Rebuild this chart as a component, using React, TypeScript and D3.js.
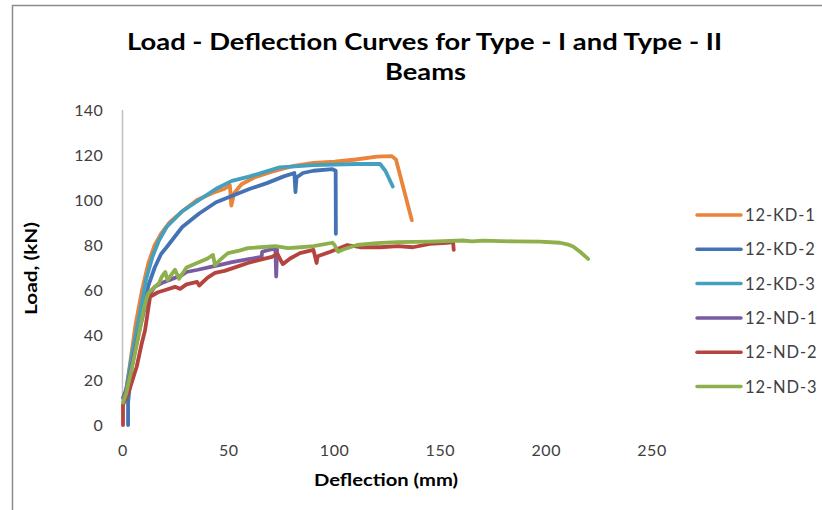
import { useEffect, useRef } from 'react'
import * as d3 from 'd3'

// deflection (mm), load (kN)
const kd1: [number, number][] = [
  [1, 12], [3, 25], [6, 45], [9, 60], [12, 72], [15, 80], [18, 85], [22, 90], [28, 95],
  [35, 100], [42, 103], [48, 105], [50.5, 106.5], [51.2, 97.5], [52.5, 103], [56, 107],
  [62, 110], [70, 112.5], [80, 115], [90, 116.5], [100, 117], [110, 118], [120, 119.3],
  [127, 119.5], [129, 118], [136.5, 91],
]
const kd2: [number, number][] = [
  [2.4, 0], [2.4, 10], [4, 25], [8, 45], [12, 62], [15, 70], [18, 76], [20.6, 79], [28, 88],
  [36, 94], [44, 99], [52, 102], [60, 105], [68, 107.5], [76, 110.5], [81, 112], [81.5, 103.5],
  [82, 110], [85, 112], [90, 113], [99, 113.7], [100.5, 113], [100.6, 85],
]
const kd3: [number, number][] = [
  [1, 13], [4, 30], [8, 50], [11, 65], [14, 75], [17, 82], [20.6, 88], [28, 95], [36, 100],
  [44, 105], [51.5, 108.5], [60, 110.5], [74, 114.5], [90, 115.5], [110, 116], [121.5, 116],
  [124, 113], [127.5, 106],
]
const nd1: [number, number][] = [
  [0, 12], [2, 17], [4, 26], [7, 39], [10, 51], [12.5, 58], [15, 61.4], [18, 63], [22, 64.5],
  [28, 66.7], [30, 68], [35.4, 69], [42, 70.4], [46, 71.2], [51.5, 72.4], [58, 73.5],
  [65.5, 74.7], [65.8, 77], [72, 78.6], [72.4, 66], [72.8, 78],
]
const nd2: [number, number][] = [
  [0, 0], [0, 9], [2, 13], [3.5, 17], [6.5, 26], [8.8, 36], [10.4, 42], [12, 52], [12.8, 57],
  [16.5, 59], [20, 60], [24.6, 61.4], [27, 60.5], [30, 62.5], [35, 63.6], [36, 62], [40, 65.5],
  [43.5, 67.6], [48, 68.5], [54, 70.4], [59, 72], [65, 73.5], [70.4, 74.7], [73, 76],
  [75.5, 71.5], [79, 74], [83.6, 76.4], [90, 77.8], [91.5, 72], [92, 75], [98, 77], [106, 80],
  [112, 79], [121.5, 79], [130, 79.5], [137, 79], [145, 80.5], [153, 81], [156, 81.3],
  [156.3, 77.8],
]
const nd3: [number, number][] = [
  [0, 10], [1.5, 14], [4.7, 27.5], [7, 38], [9.5, 50], [11, 56], [12, 58.6], [14, 60.5],
  [17, 63], [18.4, 66], [20, 68], [21, 64.4], [24.6, 69], [26.5, 65], [30, 70], [35, 72],
  [40, 74], [42.5, 75.6], [43.5, 71], [46, 73.5], [49.6, 76.4], [55, 77.5], [59, 78.6],
  [65, 79], [72, 79.5], [78, 78.6], [84, 79], [90, 79.5], [99, 81], [100, 80], [101.6, 77],
  [104, 78], [110.6, 80], [120, 80.8], [129.5, 81.3], [145, 81.5], [160.7, 82], [165, 81.6],
  [170, 81.9], [185, 81.6], [197, 81.5], [206.5, 81], [210, 80.3], [212.7, 79.3], [216, 77],
  [219.8, 73.8],
]

const seriesNames = ['12-KD-1', '12-KD-2', '12-KD-3', '12-ND-1', '12-ND-2', '12-ND-3']
const seriesData = [kd1, kd2, kd3, nd1, nd2, nd3]
const seriesColors = ['#E9843A', '#4473B5', '#43A0BE', '#7A5BA3', '#B5443F', '#8DB04C']

const xTicks = [0, 50, 100, 150, 200, 250]
const yTicks = [0, 20, 40, 60, 80, 100, 120, 140]

const FONT = 'Lato, "Open Sans", sans-serif'

export default function App() {
  const ref = useRef<SVGSVGElement>(null)

  useEffect(() => {
    const svg = d3.select(ref.current)
    svg.selectAll('*').remove()

    const x = d3.scaleLinear().domain([0, 250]).range([123, 652])
    const y = d3.scaleLinear().domain([0, 140]).range([425, 110])

    svg.append('rect').attr('width', 822).attr('height', 510).attr('fill', '#fff')
    // chart area border (cropped at right and bottom)
    svg.append('rect')
      .attr('x', 12.5).attr('y', 5.5).attr('width', 830).attr('height', 520)
      .attr('fill', 'none').attr('stroke', '#8c8c8c').attr('stroke-width', 1.5)

    // the original font is wider than Lato, so stretch to the measured widths
    const title = svg.append('g').attr('font-family', FONT)
      .attr('font-weight', 700).attr('font-size', 22).attr('fill', '#000')
    title.append('text').attr('x', 127).attr('y', 50)
      .attr('textLength', 595).attr('lengthAdjust', 'spacingAndGlyphs')
      .text('Load - Deflection Curves for Type - I and Type - II')
    title.append('text').attr('x', 385).attr('y', 80)
      .attr('textLength', 81).attr('lengthAdjust', 'spacingAndGlyphs')
      .text('Beams')

    // y axis line
    svg.append('line')
      .attr('x1', x(0) - 0.5).attr('x2', x(0) - 0.5)
      .attr('y1', y(140)).attr('y2', y(0))
      .attr('stroke', '#bfbfbf').attr('stroke-width', 1.5)

    svg.append('g').selectAll('text').data(yTicks).enter().append('text')
      .attr('x', 103).attr('y', (d) => y(d) + 5.5)
      .attr('text-anchor', 'end').attr('font-family', FONT).attr('font-size', 16)
      .attr('letter-spacing', 0.3).attr('fill', '#404040').text((d) => d)

    svg.append('g').selectAll('text').data(xTicks).enter().append('text')
      .attr('x', (d) => x(d)).attr('y', 456)
      .attr('text-anchor', 'middle').attr('font-family', FONT).attr('font-size', 16)
      .attr('letter-spacing', 0.6).attr('fill', '#404040').text((d) => d)

    svg.append('text')
      .attr('x', 314).attr('y', 486)
      .attr('textLength', 144).attr('lengthAdjust', 'spacingAndGlyphs')
      .attr('font-family', FONT).attr('font-weight', 700).attr('font-size', 17.5)
      .attr('fill', '#000').text('Deflection (mm)')

    svg.append('text')
      .attr('transform', 'translate(37,315) rotate(-90)')
      .attr('textLength', 93).attr('lengthAdjust', 'spacingAndGlyphs')
      .attr('font-family', FONT).attr('font-weight', 700).attr('font-size', 17)
      .attr('fill', '#000').text('Load, (kN)')

    const line = d3.line<[number, number]>().x((d) => x(d[0])).y((d) => y(d[1]))

    svg.append('g').selectAll('path').data(seriesData).enter().append('path')
      .attr('d', (d) => line(d))
      .attr('fill', 'none')
      .attr('stroke', (_, i) => seriesColors[i])
      .attr('stroke-width', 3.8)
      .attr('stroke-linejoin', 'round')
      .attr('stroke-linecap', 'round')

    const legend = svg.append('g').selectAll('g').data(seriesNames).enter().append('g')
      .attr('transform', (_, i) => `translate(697,${215 + i * 34.3})`)
    legend.append('line')
      .attr('x1', 0).attr('x2', 44)
      .attr('stroke', (_, i) => seriesColors[i]).attr('stroke-width', 3.5)
      .attr('stroke-linecap', 'round')
    legend.append('text')
      .attr('x', 48).attr('y', 6)
      .attr('font-family', FONT).attr('font-size', 16.5).attr('letter-spacing', 0.9)
      .attr('fill', '#404040')
      .text((d) => d)
  }, [])

  return <svg ref={ref} width={822} height={510} style={{ position: 'absolute', left: 0, top: 0, display: 'block' }} />
}
